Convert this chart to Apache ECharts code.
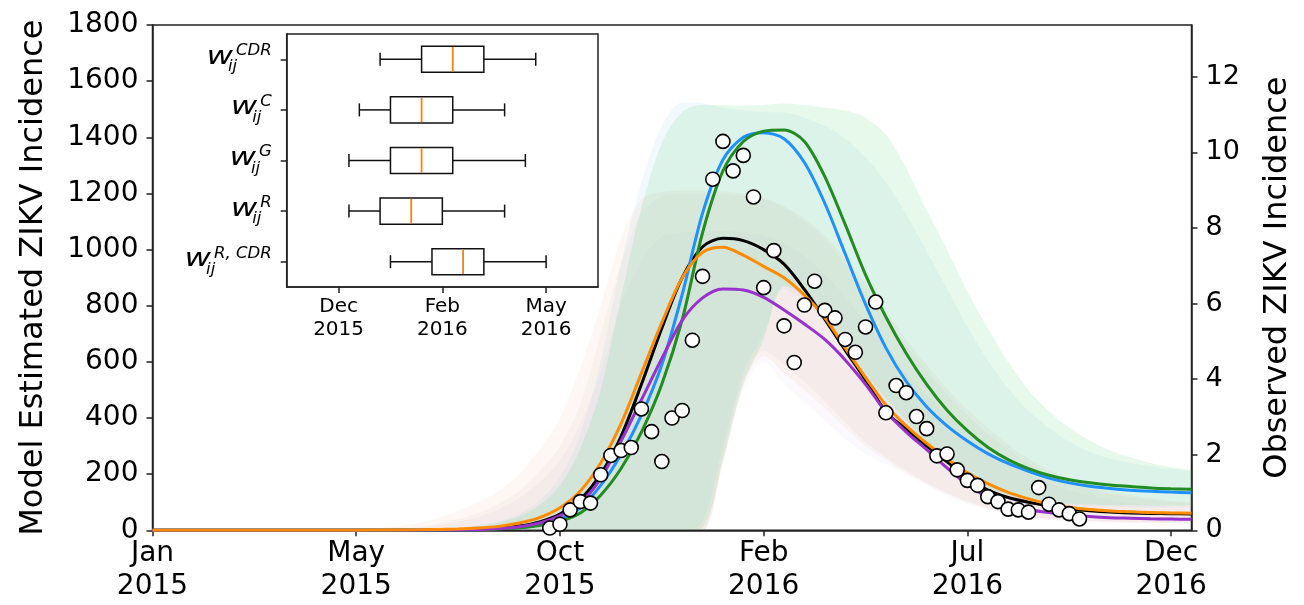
<!DOCTYPE html>
<html><head><meta charset="utf-8">
<script src="https://cdn.jsdelivr.net/npm/echarts@6/dist/echarts.min.js"></script>
<style>html,body{margin:0;padding:0;background:#fff}#main{width:1304px;height:605px}</style>
</head><body><div id="main"></div>
<script>
// ---------- data (x in weeks since 1 Jan 2015) ----------
const weeks = [0,10,20,26,30,32,34,36,38,40,42,44,46,48,50,52,54,56,58,60,62,64,66,68,70,72,74,76,78,80,82,84,86,88,90,92,94,96,98,100,102];
const modelBlack  = [0,0,0.2,0.5,2,4,8,15,30,58,110,200,335,520,720,900,1010,1040,1032,1000,948,858,752,642,535,422,360,300,244,190,143,117,100,87,77,70,65,62,60,59,58];
const modelOrange = [0,0,0.3,2,5,8,14,26,45,80,140,240,380,560,740,900,990,1008,980,940,900,838,758,650,545,446,372,310,255,205,166,135,112,94,82,74,69,66,63,62,61];
const modelPurple = [0,0,0.1,0.3,1.5,3,6,13,26,52,96,185,318,465,612,748,828,860,856,830,785,735,680,607,520,422,350,287,222,163,118,92,74,63,55,49,45,43,41,40,39];
const modelBlue   = [0,0,0.1,0.5,2,3,6,10,20,40,80,160,270,410,590,840,1130,1320,1400,1416,1395,1310,1165,985,805,650,530,440,372,318,273,238,210,186,169,157,149,143,139,136,134];
const modelGreen  = [0,0,0.1,0.5,2,3,5,9,17,32,62,125,220,350,520,750,1060,1280,1385,1422,1426,1385,1260,1090,910,760,630,520,428,355,296,252,220,196,180,169,161,156,151,148,146];

const greenUpper  = [0,0,0,2,8,15,28,50,90,160,290,500,830,1150,1380,1490,1515,1515,1512,1515,1520,1515,1505,1495,1470,1410,1290,1140,1000,850,720,600,500,425,365,320,285,260,240,225,215];
const greenLower  = [0,0,0,0,0,0,0,0,0,0,0,0,0,0,0,0,10,250,520,680,870,840,760,660,560,470,390,310,245,190,150,125,110,100,95,92,90,89,88,88,87];
const blueUpper   = [0,0,0,3,10,18,32,58,105,190,340,600,950,1240,1440,1525,1522,1505,1495,1490,1488,1470,1440,1395,1330,1240,1125,995,860,725,605,505,425,365,315,280,255,240,228,218,210];
const blueLower   = [0,0,0,0,0,0,0,0,0,0,0,0,0,0,0,0,30,300,560,700,860,820,740,640,540,450,372,300,240,188,150,123,106,96,90,86,84,83,82,81,80];
const orangeUpper = [0,0,2,25,70,100,140,200,290,400,580,800,1040,1180,1205,1210,1210,1208,1200,1185,1155,1110,1050,970,880,780,680,590,505,430,365,305,255,215,185,160,140,125,115,105,100];
const orangeLower = [0,0,0,0,0,0,0,0,0,0,0,0,0,0,0,0,0,240,520,620,560,500,435,365,300,250,205,165,130,100,78,60,48,40,35,32,30,29,28,27,27];
const blackUpper  = [0,0,1,12,40,62,95,140,210,300,450,700,950,1130,1190,1200,1200,1198,1192,1180,1150,1100,1035,950,860,760,660,570,485,410,345,290,240,200,170,148,130,118,108,100,95];
const blackLower  = [0,0,0,0,0,0,0,0,0,0,0,0,0,0,0,0,0,260,540,640,590,530,460,385,315,260,212,170,134,104,80,62,50,42,37,33,31,30,29,28,28];
const purpleUpper = [0,0,0.5,8,30,48,75,115,170,250,380,560,800,960,1045,1060,1062,1065,1062,1050,1020,975,910,830,740,650,560,480,410,345,290,240,200,168,142,122,108,97,90,85,80];
const purpleLower = [0,0,0,0,0,0,0,0,0,0,0,0,0,0,0,0,0,240,500,600,520,455,390,325,272,235,198,160,122,95,72,55,44,37,32,28,26,25,24,23,22];

const obsWeeks  = [39,40,41,42,43,44,45,46,47,48,49,50,51,52,53,54,55,56,57,58,59,60,61,62,63,64,65,66,67,68,69,70,71,72,73,74,75,76,77,78,79,80,81,82,83,84,85,86,87,88,89,90,91];
const obsValues = [0.06,0.16,0.54,0.76,0.72,1.47,1.98,2.11,2.19,3.21,2.61,1.82,2.97,3.17,5.03,6.72,9.29,10.29,9.51,9.92,8.82,6.42,7.40,5.41,4.44,5.96,6.59,5.82,5.62,5.05,4.71,5.38,6.04,3.11,3.83,3.64,3.01,2.69,1.97,2.02,1.60,1.32,1.19,0.89,0.76,0.56,0.54,0.48,1.13,0.69,0.54,0.44,0.30];

const tickWeeks  = [0,20,40,60,80,100];
const tickLabels = ['Jan\n2015','May\n2015','Oct\n2015','Feb\n2016','Jul\n2016','Dec\n2016'];
const rightTicks = [0,2,4,6,8,10,12];

const insetCats = ['CDR','C','G','R','R, CDR'];
const boxMin = [54,52,51,51,55];
const boxQ1  = [58,55,55,54,59];
const boxMed = [61,58,58,57,62];
const boxQ3  = [64,61,61,60,64];
const boxMax = [69,66,68,66,70];
const insetRefWeek = 57;
const insetTickWeeks  = [50,60,70];
const insetTickLabels = ['Dec\n2015','Feb\n2016','May\n2016'];

// ---------- chart ----------
const FONT = 'DejaVu Sans';
const AX = '#222';
const pairs = (xs, ys) => xs.map((x, i) => [x, ys[i]]);
// value first, week second, so the line stack is applied to the value dimension
const vpairs = (xs, ys) => xs.map((x, i) => [ys[i], x]);

function band(name, lower, upper, color) {
  return [
    { type:'line', name:name+'_lo', data:vpairs(weeks, lower), encode:{x:1, y:0}, stack:name, symbol:'none', smooth:0.3,
      lineStyle:{opacity:0, width:0}, silent:true, z:1 },
    { type:'line', name:name+'_hi', data:vpairs(weeks, upper.map((u,i)=>u-lower[i])), encode:{x:1, y:0}, stack:name, symbol:'none', smooth:0.3,
      lineStyle:{opacity:0, width:0}, areaStyle:{color:color, opacity:1}, silent:true, z:1 }
  ];
}
function curve(name, ys, color) {
  return { type:'line', name, data:pairs(weeks, ys), symbol:'none', smooth:0.3,
    lineStyle:{color, width:3}, itemStyle:{color}, z:3 };
}

const option = {
  animation:false,
  backgroundColor:'#fff',
  textStyle:{fontFamily:FONT},
  grid:[
    {left:152.5, right:112.5, top:25, bottom:74.7, show:true, borderColor:AX, borderWidth:1.5,
     backgroundColor:'transparent', containLabel:false, outerBoundsMode:'none', z:0},
    {left:286.7, top:34, width:311.3, height:253, show:true, borderColor:AX, borderWidth:1.5,
     backgroundColor:'#fff', containLabel:false, outerBoundsMode:'none', z:10}
  ],
  xAxis:[
    {type:'value', gridIndex:0, min:0, max:102,
     axisLine:{show:true, onZero:false, lineStyle:{color:AX, width:1.5}},
     axisTick:{show:true, length:6, customValues:tickWeeks, lineStyle:{color:AX, width:1.5}},
     axisLabel:{customValues:tickWeeks, formatter:v=>tickLabels[tickWeeks.indexOf(v)] || '',
                fontSize:28, lineHeight:33, color:'#000', margin:7, fontFamily:FONT},
     splitLine:{show:false}},
    {type:'value', gridIndex:1, min:45, max:75, z:15,
     axisLine:{show:true, onZero:false, lineStyle:{color:AX, width:1.5}},
     axisTick:{show:true, length:6, customValues:insetTickWeeks, lineStyle:{color:AX, width:1.5}},
     axisLabel:{customValues:insetTickWeeks, formatter:v=>insetTickLabels[insetTickWeeks.indexOf(v)] || '',
                fontSize:20, lineHeight:23, color:'#000', margin:8, fontFamily:FONT},
     splitLine:{show:false}}
  ],
  yAxis:[
    {type:'value', gridIndex:0, min:0, max:1800, interval:200, position:'left',
     name:'Model Estimated ZIKV Incidence', nameLocation:'middle', nameRotate:90, nameGap:103,
     nameTextStyle:{fontSize:32, color:'#000', fontFamily:FONT},
     axisLine:{show:true, onZero:false, lineStyle:{color:AX, width:1.5}},
     axisTick:{show:true, length:6, lineStyle:{color:AX, width:1.5}},
     axisLabel:{fontSize:28, color:'#000', margin:14, formatter:v=>String(v), fontFamily:FONT},
     splitLine:{show:false}},
    {type:'value', gridIndex:0, min:0, max:13.37, position:'right',
     name:'Observed ZIKV Incidence', nameLocation:'middle', nameRotate:90, nameGap:70,
     nameTextStyle:{fontSize:32, color:'#000', fontFamily:FONT},
     axisLine:{show:true, onZero:false, lineStyle:{color:AX, width:1.5}},
     axisTick:{show:true, length:6, customValues:rightTicks, lineStyle:{color:AX, width:1.5}},
     axisLabel:{customValues:rightTicks, fontSize:27, color:'#000', margin:14, formatter:v=>String(v), fontFamily:FONT},
     splitLine:{show:false}},
    {type:'category', gridIndex:1, data:insetCats, inverse:true, z:15,
     axisLine:{show:true, onZero:false, lineStyle:{color:AX, width:1.5}},
     axisTick:{show:true, length:6, alignWithLabel:true, lineStyle:{color:AX, width:1.5}},
     axisLabel:{show:false}, splitLine:{show:false}}
  ],
  series:[
    ...band('bandOrange', orangeLower, orangeUpper, 'rgba(240,150,100,0.08)'),
    ...band('bandBlack',  blackLower,  blackUpper,  'rgba(130,110,70,0.045)'),
    ...band('bandPurple', purpleLower, purpleUpper, 'rgba(170,130,220,0.05)'),
    ...band('bandBlue',   blueLower,   blueUpper,   'rgba(130,200,240,0.10)'),
    ...band('bandGreen',  greenLower,  greenUpper,  'rgba(70,210,100,0.13)'),
    curve('black', modelBlack, '#000000'),
    curve('blue', modelBlue, '#1e90ff'),
    curve('green', modelGreen, '#228b22'),
    curve('purple', modelPurple, '#9932cc'),
    curve('orange', modelOrange, '#ff8c00'),
    { type:'scatter', name:'observed', xAxisIndex:0, yAxisIndex:1, data:pairs(obsWeeks, obsValues),
      symbol:'circle', symbolSize:14, itemStyle:{color:'#fff', borderColor:'#000', borderWidth:1.6, opacity:1}, z:5 },
    { type:'custom', name:'inset', xAxisIndex:1, yAxisIndex:2, z:20,
      data: insetCats.map((c,i)=>[i, boxMin[i], boxQ1[i], boxMed[i], boxQ3[i], boxMax[i]]),
      encode:{y:0, x:[1,2,3,4,5]},
      renderItem(params, api){
        const idx = api.value(0);
        const bandH = api.size([0,1])[1];
        const h = bandH*0.515;
        const y = api.coord([api.value(1), idx])[1];
        const x = [1,2,3,4,5].map(d=>api.coord([api.value(d), idx])[0]);
        const ls = {stroke:'#111', lineWidth:1.5, fill:null};
        const cap = h/4;
        return {type:'group', children:[
          {type:'line', shape:{x1:x[0], y1:y, x2:x[1], y2:y}, style:ls},
          {type:'line', shape:{x1:x[3], y1:y, x2:x[4], y2:y}, style:ls},
          {type:'line', shape:{x1:x[0], y1:y-cap, x2:x[0], y2:y+cap}, style:ls},
          {type:'line', shape:{x1:x[4], y1:y-cap, x2:x[4], y2:y+cap}, style:ls},
          {type:'rect', shape:{x:x[1], y:y-h/2, width:x[3]-x[1], height:h}, style:{stroke:'#111', lineWidth:1.5, fill:'none'}},
          {type:'line', shape:{x1:x[2], y1:y-h/2+0.8, x2:x[2], y2:y+h/2-0.8}, style:{stroke:'#ff7f0e', lineWidth:1.8}}
        ]};
      },
      markLine:{silent:true, symbol:'none', label:{show:false},
        lineStyle:{color:'#2a9a2a', width:2, type:'solid'}, data:[{xAxis:insetRefWeek}]}
    }
  ]
};

const chart = echarts.init(document.getElementById('main'), null, {renderer:'canvas'});
chart.setOption(option);

// inset category labels  w_ij^{...}
const mctx = document.createElement('canvas').getContext('2d');
const tw = (t, f) => { mctx.font = f; return mctx.measureText(t).width; };
const wFont = 'italic 24px "DejaVu Sans"';
const sFont = 'italic 16.5px "DejaVu Sans"';
const labels = [];
insetCats.forEach((c) => {
  const p = chart.convertToPixel({xAxisIndex:1, yAxisIndex:2}, [45, c]);
  const right = p[0] - 15;
  const x0 = right - tw(c, sFont);
  labels.push({type:'text', x:x0, y:p[1]-8.3, z:100, style:{text:c, font:sFont, fill:'#000', align:'left', verticalAlign:'middle'}});
  labels.push({type:'text', x:x0-8, y:p[1]+7.8, z:100, style:{text:'ij', font:sFont, fill:'#000', align:'left', verticalAlign:'middle'}});
  labels.push({type:'text', x:x0-3, y:p[1]-1.7, scaleX:1.35, z:100, style:{text:'w', font:wFont, fill:'#000', align:'right', verticalAlign:'middle'}});
});
chart.setOption({graphic:labels});
</script></body></html>
